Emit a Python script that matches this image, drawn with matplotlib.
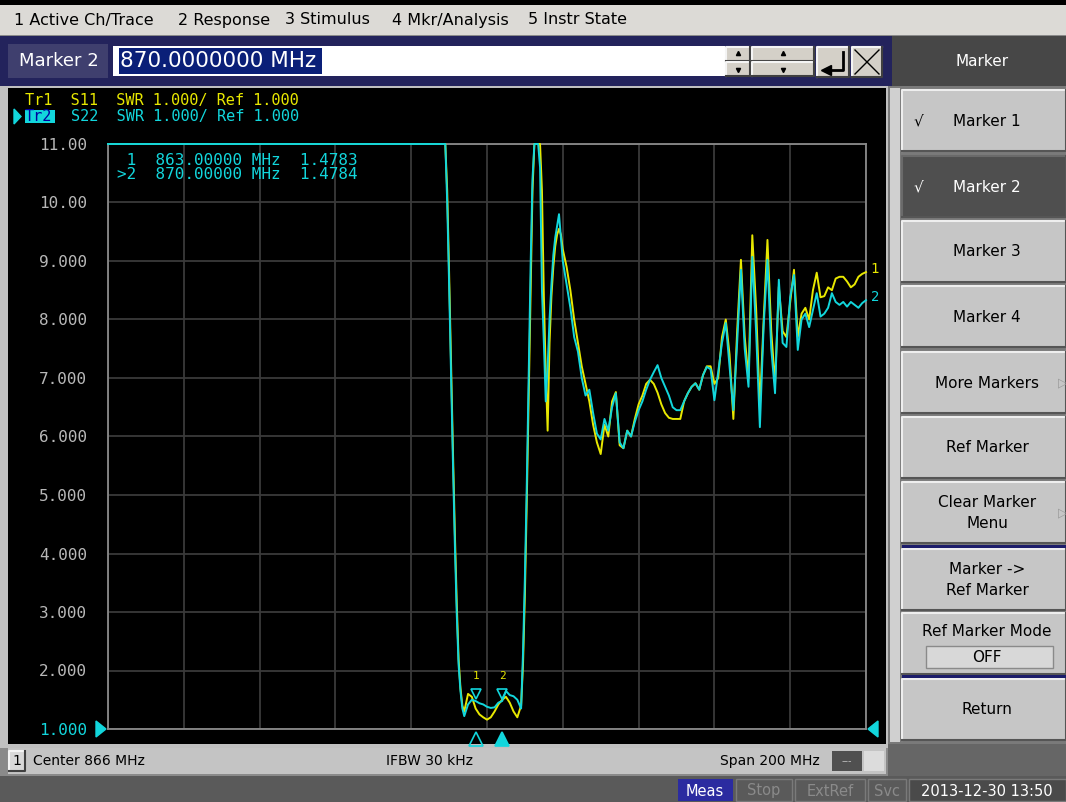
import matplotlib
matplotlib.use("Agg")
import matplotlib.pyplot as plt
from matplotlib.patches import Rectangle, Polygon

W, H = 1066, 802

# trace data (MHz, SWR)
freq_mhz = [766, 855, 855.5, 856, 856.5, 857, 857.5, 858, 858.5, 859, 859.5,
            860, 861, 862, 863, 864, 865, 866, 867, 868, 869, 870, 871, 872, 873, 874, 875,
            875.5, 876, 876.5, 877, 877.5, 878, 878.5, 879, 879.5, 880, 880.5, 881, 881.5,
            882, 882.5, 883, 883.5, 884, 884.5, 885, 885.5,
            886, 887, 888, 889, 890, 891, 892, 893, 894, 895, 896, 897, 898, 899, 900,
            901, 902, 903, 904, 905, 906, 907, 908, 909, 910, 911, 912, 913, 914, 915,
            916, 917, 918, 919, 920, 921, 922, 923, 924, 925, 926, 927, 928, 929, 930,
            931, 932, 933, 934, 935, 936, 937, 938, 939, 940, 941, 942, 943, 944, 945,
            946, 947, 948, 949, 950, 951, 952, 953, 954, 955, 956, 957, 958, 959, 960,
            961, 962, 963, 964, 965, 966]

s22_swr = [11, 11, 10.0, 8.6, 7.1, 5.6, 4.2, 3.0, 2.1, 1.65, 1.35,
           1.22, 1.42, 1.5, 1.478, 1.44, 1.42, 1.38, 1.36, 1.37, 1.45, 1.478, 1.65, 1.58, 1.56, 1.5, 1.35,
           2.3, 3.6, 5.2, 7.0, 8.9, 10.4, 11, 11, 11, 10.6, 8.5, 7.6, 6.6,
           7.2, 8.0, 8.6, 9.1, 9.4, 9.6, 9.8, 9.4,
           9.0, 8.6, 8.2, 7.7, 7.45, 7.0, 6.7, 6.8, 6.4, 6.05, 5.95, 6.3, 6.1, 6.5, 6.74,
           5.9, 5.8, 6.1, 6.0, 6.25, 6.45, 6.6, 6.8, 6.97, 7.1, 7.22, 7.0, 6.85, 6.7, 6.5,
           6.45, 6.45, 6.6, 6.74, 6.85, 6.91, 6.8, 7.05, 7.19, 7.15, 6.62, 7.1, 7.6, 7.94, 7.2,
           6.45, 7.6, 8.85, 7.5, 6.85, 9.07, 7.8, 6.16, 7.9, 9.02, 7.5, 6.74, 8.68, 7.6, 7.53,
           8.38, 8.76, 7.48, 8.0, 8.1, 7.87, 8.16, 8.45, 8.05, 8.1, 8.2, 8.45, 8.3, 8.25, 8.3,
           8.22, 8.3, 8.25, 8.2, 8.28, 8.33]

s11_swr = [11, 11, 10.2, 8.8, 7.3, 5.8, 4.4, 3.2, 2.2, 1.7, 1.4,
           1.3, 1.6, 1.55, 1.35, 1.25, 1.2, 1.16, 1.2, 1.3, 1.42, 1.5, 1.55, 1.45, 1.3, 1.2, 1.4,
           2.1, 3.3, 4.9, 6.7, 8.6, 10.2, 11, 11, 11, 11, 10.2, 8.4, 7.1,
           6.1, 7.6, 8.4, 8.9, 9.25, 9.45, 9.55, 9.45,
           9.2, 8.9, 8.5, 8.0, 7.6, 7.2, 6.9, 6.6, 6.2, 5.9, 5.7, 6.2, 6.0, 6.6, 6.76,
           5.85, 5.8, 6.1, 6.0, 6.3, 6.55, 6.7, 6.9, 6.97, 6.9, 6.75, 6.55, 6.4, 6.32, 6.3,
           6.3, 6.3, 6.6, 6.74, 6.85, 6.91, 6.8, 7.05, 7.2, 7.2, 6.9, 7.0, 7.7, 8.0, 7.4,
           6.3, 7.8, 9.02, 7.7, 7.0, 9.44, 8.2, 6.5, 8.0, 9.36, 7.8, 6.9, 8.56, 7.8, 7.7,
           8.3, 8.85, 7.7, 8.1, 8.2, 8.0, 8.5, 8.8, 8.38, 8.4, 8.55, 8.5, 8.7, 8.73, 8.73,
           8.65, 8.55, 8.6, 8.73, 8.78, 8.81]

y_ticks = [1, 2, 3, 4, 5, 6, 7, 8, 9, 10, 11]
y_tick_labels = ["1.000", "2.000", "3.000", "4.000", "5.000", "6.000",
                 "7.000", "8.000", "9.000", "10.00", "11.00"]
marker_freqs = [863.0, 870.0]
marker_vals = [1.4783, 1.4784]
menu_items = ["1 Active Ch/Trace", "2 Response", "3 Stimulus", "4 Mkr/Analysis", "5 Instr State"]
softkeys = ["Marker 1", "Marker 2", "Marker 3", "Marker 4", "More Markers", "Ref Marker",
            "Clear Marker\nMenu", "Marker ->\nRef Marker", "Ref Marker Mode", "Return"]

YEL = "#e8e800"
CYN = "#12d6dc"
UI = "DejaVu Sans"
MONO = "DejaVu Sans Mono"

fig = plt.figure(figsize=(W / 100, H / 100), dpi=100)
bg = fig.add_axes([0, 0, 1, 1])
bg.set_xlim(0, W)
bg.set_ylim(H, 0)
bg.axis("off")


def box(x, y, w, h, fc, ec="none", lw=0, z=1):
    bg.add_patch(Rectangle((x, y), w, h, facecolor=fc, edgecolor=ec, lw=lw, zorder=z))


def button(x, y, w, h, face, light="#f4f4f4", dark="#404040"):
    box(x, y, w, h, face, z=2)
    bg.plot([x, x, x + w], [y + h, y, y], color=light, lw=1.5, zorder=3)
    bg.plot([x, x + w, x + w], [y + h, y + h, y], color=dark, lw=1.5, zorder=3)


# window background
box(0, 0, W, H, "#8a8a8a", z=0)
box(0, 0, W, 5, "#000000")
box(0, 5, W, 30, "#dcdad6")
for txt, x in zip(menu_items, [14, 178, 285, 392, 528]):
    bg.text(x, 20, txt, fontsize=11.5, family=UI, color="#000000", va="center")

# marker entry bar
box(0, 36, 892, 50, "#23235c")
box(8, 44, 100, 34, "#3f3f6e")
bg.text(59, 61, "Marker 2", fontsize=13, family=UI, color="#ffffff", va="center", ha="center")
box(113, 46, 612, 30, "#ffffff", z=2)
box(119, 48, 203, 26, "#0a1f78", z=3)
bg.text(120, 61, "870.0000000 MHz", fontsize=15.5, family=UI, color="#ffffff", va="center", zorder=4)
button(726, 47, 24, 14, "#d4d0c8")
button(726, 62, 24, 14, "#d4d0c8")
button(752, 47, 62, 14, "#d4d0c8")
button(752, 62, 62, 14, "#d4d0c8")
for bx in (738, 783):
    bg.plot(bx, 53, marker="^", ms=3, color="#000000", zorder=4)
    bg.plot(bx, 70, marker="v", ms=3, color="#000000", zorder=4)
button(817, 47, 32, 30, "#d4d0c8")
bg.plot([843, 843, 826], [52, 70, 70], color="#000000", lw=2, zorder=4)
bg.plot(826, 70, marker="<", ms=7, color="#000000", zorder=4)
button(852, 47, 30, 30, "#d4d0c8")
bg.plot([855, 879], [50, 74], color="#000000", lw=1, zorder=4)
bg.plot([855, 879], [74, 50], color="#000000", lw=1, zorder=4)
box(892, 36, 174, 50, "#474747")
bg.text(982, 62, "Marker", fontsize=11, family=UI, color="#ffffff", va="center", ha="center")

# measurement window
box(0, 86, 890, 662, "#c0c0c0")
box(8, 88, 878, 656, "#000000")
bg.text(25, 100, "Tr1  S11  SWR 1.000/ Ref 1.000", fontsize=11, family=MONO, color=YEL, va="center")
box(25, 110, 30, 13, CYN, z=2)
bg.text(25, 116.5, "Tr2", fontsize=11, family=MONO, color="#0000a0", va="center", zorder=3)
bg.add_patch(Polygon([[14, 109], [14, 124], [21, 116.5]], closed=True, color=CYN, zorder=3))
bg.text(25 + 5 * 9.2, 116.5, "S22  SWR 1.000/ Ref 1.000", fontsize=11, family=MONO, color=CYN, va="center")

# status bar
box(8, 748, 878, 26, "#c4c4c4")
button(9, 751, 16, 20, "#d8d8d8")
bg.text(17, 761, "1", fontsize=10, family=UI, color="#000000", va="center", ha="center", zorder=4)
bg.text(33, 761, "Center 866 MHz", fontsize=10, family=UI, color="#000000", va="center")
bg.text(386, 761, "IFBW 30 kHz", fontsize=10, family=UI, color="#000000", va="center")
bg.text(720, 761, "Span 200 MHz", fontsize=10, family=UI, color="#000000", va="center")
box(832, 751, 30, 20, "#505050", z=2)
bg.text(847, 761, "---", fontsize=7, family=UI, color="#bbbbbb", va="center", ha="center", zorder=3)
box(864, 751, 20, 20, "#dcdcdc", z=2)
box(888, 744, 178, 32, "#666666")
box(0, 776, W, 26, "#5a5a5a")
box(678, 779, 55, 22, "#2b2ba0", z=2)
bg.text(705, 791, "Meas", fontsize=10.5, family=UI, color="#ffffff", va="center", ha="center", zorder=3)
for txt, x0, w in [("Stop", 736, 56), ("ExtRef", 795, 70), ("Svc", 868, 38)]:
    box(x0, 779, w, 22, "#5a5a5a", ec="#7a7a7a", lw=1, z=2)
    bg.text(x0 + w / 2, 791, txt, fontsize=10.5, family=UI, color="#8a8a8a", va="center", ha="center", zorder=3)
box(909, 779, 157, 22, "#4a4a4a", ec="#7a7a7a", lw=1, z=2)
bg.text(987, 791, "2013-12-30 13:50", fontsize=10.5, family=UI, color="#ffffff", va="center", ha="center", zorder=3)

# softkey panel
box(888, 86, 178, 658, "#7a7a7a")
box(890, 88, 10, 654, "#d0d0d0", z=2)
key_tops = [90, 156, 221, 286, 352, 417, 482, 549, 613, 679]
for i, (label, top) in enumerate(zip(softkeys, key_tops)):
    active = label == "Marker 2"
    face = "#4f4f4f" if active else "#c6c6c6"
    button(902, top, 164, 61, face, light="#eeeeee" if not active else "#6a6a6a", dark="#555555")
    tx = 987
    if label == "Ref Marker Mode":
        bg.text(tx, top + 19, label, fontsize=11, family=UI, color="#000000", va="center", ha="center", zorder=4)
        box(926, top + 33, 127, 22, "#d8d8d8", ec="#8a8a8a", lw=1, z=4)
        bg.text(tx, top + 44, "OFF", fontsize=11, family=UI, color="#000000", va="center", ha="center", zorder=5)
    else:
        bg.text(tx, top + 31, label, fontsize=11, family=UI, color="#ffffff" if active else "#000000",
                va="center", ha="center", linespacing=1.55, zorder=4)
    if label in ("Marker 1", "Marker 2"):
        bg.text(914, top + 31, "\u221a", fontsize=11, family=UI, color="#ffffff" if active else "#000000",
                va="center", zorder=4)
    if label in ("More Markers", "Clear Marker\nMenu"):
        bg.text(1058, top + 31, "\u25b7", fontsize=9, family=UI, color="#9a9a9a", va="center", zorder=4)
for yline in (545, 675):
    box(902, yline, 164, 3, "#1c1c6a", z=3)

# trace graticule
left, right, top, bottom = 108, 866, 144, 729
ax = fig.add_axes([left / W, (H - bottom) / H, (right - left) / W, (bottom - top) / H])
ax.set_facecolor("#000000")
ax.set_xlim(766, 966)
ax.set_ylim(1, 11)
ax.set_xticks([766 + 20 * i for i in range(11)])
ax.set_yticks(y_ticks)
ax.set_yticklabels(y_tick_labels, family=MONO, fontsize=11.5)
for lab in ax.get_yticklabels():
    lab.set_color("#b8b8b8")
ax.get_yticklabels()[0].set_color(CYN)
ax.tick_params(axis="y", length=0, pad=15)
ax.tick_params(axis="x", length=0, labelbottom=False)
ax.grid(True, color="#3a3a3a", lw=1.3)
for sp in ax.spines.values():
    sp.set_color("#8a8a8a")
    sp.set_linewidth(1.3)

ax.plot(freq_mhz, s11_swr, color=YEL, lw=1.4, clip_on=False, zorder=3)
ax.plot(freq_mhz, s22_swr, color=CYN, lw=1.4, clip_on=False, zorder=4)
ax.text(freq_mhz[-1] + 1.2, s11_swr[-1] + 0.05, "1", color=YEL, family=MONO, fontsize=10, va="center")
ax.text(freq_mhz[-1] + 1.2, s22_swr[-1] + 0.05, "2", color=CYN, family=MONO, fontsize=10, va="center")

# markers on trace and along the bottom
for i, (mf, mv) in enumerate(zip(marker_freqs, marker_vals)):
    ax.plot(mf, mv + 0.12, marker="v", ms=7, mfc="none", mec=CYN, mew=1.2, zorder=5, clip_on=False)
    ax.text(mf, mv + 0.42, str(i + 1), color=YEL, family=MONO, fontsize=8,
            ha="center", va="center", zorder=5)
    ax.plot(mf, 0.83, marker="^", ms=10, mfc=CYN if i == 1 else "none", mec=CYN, mew=1.2,
            zorder=5, clip_on=False)

ax.text(0.012, 0.985, " 1  863.00000 MHz  1.4783\n>2  870.00000 MHz  1.4784", transform=ax.transAxes,
        color=CYN, family=MONO, fontsize=11.5, va="top", linespacing=0.95)

# ref level arrows
bg.add_patch(Polygon([[96, 721], [96, 737], [106, 729]], closed=True, color=CYN, zorder=5))
bg.add_patch(Polygon([[878, 721], [878, 737], [868, 729]], closed=True, color=CYN, zorder=5))

fig.savefig("out.png", dpi=100)
